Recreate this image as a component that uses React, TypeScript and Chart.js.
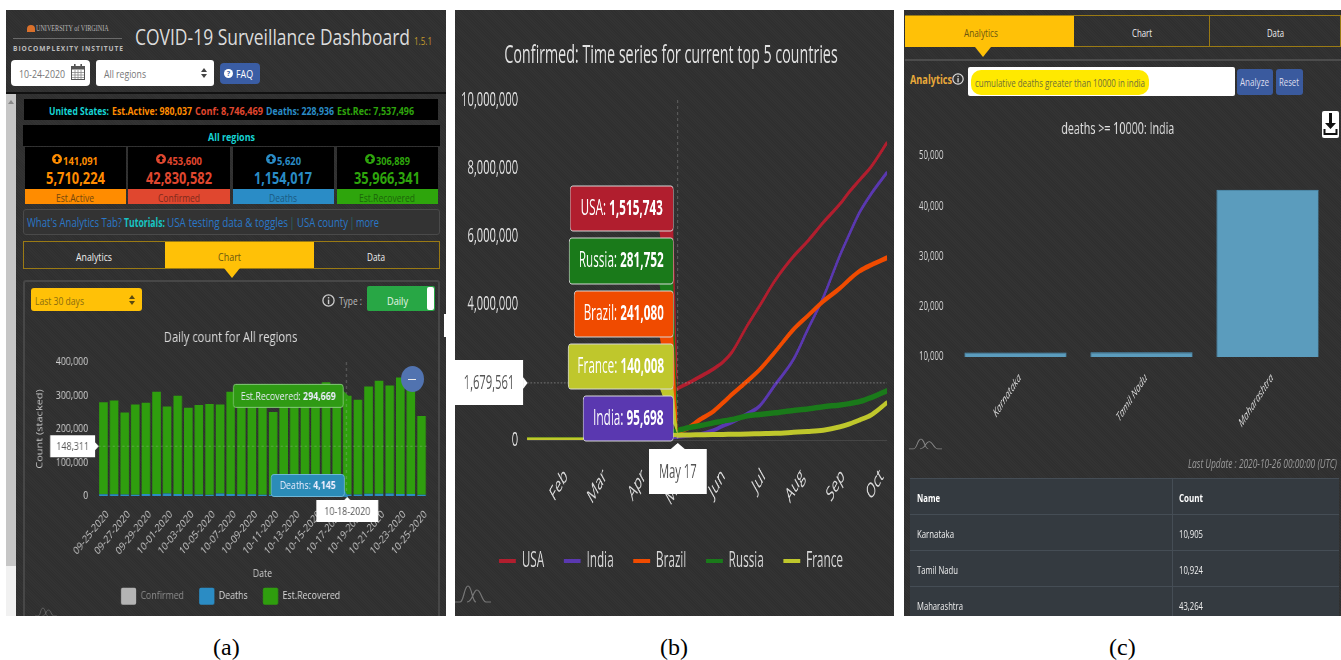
import React, { useEffect, useRef } from "react";
import { Chart, registerables } from "chart.js";

Chart.register(...registerables);

const FONT = '"Open Sans"';
const DARK = "#313131";
const HATCH = "repeating-linear-gradient(45deg,#2f2f2f 0 1px,#333333 1px 2px)";

// Panel (a): daily stacked bars
const dates = [
  "09-25-2020","09-26-2020","09-27-2020","09-28-2020","09-29-2020","09-30-2020","10-01-2020","10-02-2020",
  "10-03-2020","10-04-2020","10-05-2020","10-06-2020","10-07-2020","10-08-2020","10-09-2020","10-10-2020",
  "10-11-2020","10-12-2020","10-13-2020","10-14-2020","10-15-2020","10-16-2020","10-17-2020","10-18-2020",
  "10-19-2020","10-20-2020","10-21-2020","10-22-2020","10-23-2020","10-24-2020","10-25-2020",
];
const dailyDeaths = [4800,5200,3900,3700,5600,6000,7200,5500,4600,4400,3800,6900,5900,5300,4800,3700,3800,4900,5700,6100,5800,4300,3900,4145,4200,6500,6700,6800,5900,5500,3600];
const dailyRecovered = [275000,280000,245000,269000,273000,305000,260000,294000,259000,267000,271000,266000,305000,285000,270000,280000,247000,285000,294000,299000,300000,335000,306000,294669,283000,320000,337000,323000,348000,335000,235000];
const hoverDateIndex = 23;
const hoverCount = 148311;

// Panel (b): top five countries, read at these days after Jan 22
const days = [0,30,45,60,75,90,100,116,125,133,143,151,158,170,179,191,205,216,228,241,248,256,265,277];
const usa = [1,15,400,33000,366000,820000,1100000,1515743,1690000,1860000,2080000,2300000,2600000,3400000,3950000,4700000,5400000,5850000,6400000,6950000,7300000,7650000,8050000,8746469];
const india = [0,3,30,400,4700,20000,37000,95698,130000,170000,280000,420000,530000,780000,1000000,1630000,2370000,3250000,4200000,5450000,6050000,6700000,7250000,7870000];
const brazil = [0,0,20,1500,12000,43000,90000,241080,380000,600000,830000,1100000,1350000,1750000,2070000,2600000,3250000,3650000,4080000,4470000,4720000,4970000,5150000,5360000];
const russia = [0,0,10,350,6300,52000,115000,281752,370000,420000,500000,560000,600000,710000,750000,800000,870000,910000,980000,1030000,1070000,1130000,1250000,1450000];
const france = [0,12,950,16000,90000,120000,130000,140008,148000,153000,160000,162000,170000,175000,185000,195000,225000,250000,290000,390000,470000,590000,740000,1100000];
const hoverDay = 116;
const hoverDayLabel = "May 17";
const hoverCases = 1679561;
const monthTickDays = [30,60,90,121,151,182,212,243,273];
const monthLabels = ["Feb","Mar","Apr","May","Jun","Jul","Aug","Sep","Oct"];

// Panel (c): analytics bars
const states = ["Karnataka","Tamil Nadu","Maharashtra"];
const stateDeaths = [10905,10924,43264];

const cards = [
  { delta: "141,091", total: "5,710,224", label: "Est.Active", color: "#ff8c00", ink: "#74460c", x: 25, w: 101, dx: 63, dw: 35, tx: 46, tw: 59, lx: 56, lw: 38 },
  { delta: "453,600", total: "42,830,582", label: "Confirmed", color: "#e0472f", ink: "#7d2a1c", x: 128, w: 102, dx: 167, dw: 35, tx: 146, tw: 66, lx: 158, lw: 42 },
  { delta: "5,620", total: "1,154,017", label: "Deaths", color: "#2a8cc6", ink: "#1a5a82", x: 233, w: 101, dx: 277, dw: 24, tx: 254, tw: 58, lx: 269, lw: 28 },
  { delta: "306,889", total: "35,966,341", label: "Est.Recovered", color: "#2ea50c", ink: "#1c660a", x: 337, w: 101, dx: 376, dw: 34, tx: 354, tw: 66, lx: 359, lw: 56 },
];

const measureCtx = typeof document !== "undefined" ? document.createElement("canvas").getContext("2d") : null;

type TP = { x: number; y: number; w?: number; size: number; color: string; weight?: number; italic?: boolean; family?: string; spacing?: number; children: string };
function T({ x, y, w, size, color, weight = 400, italic, family = FONT, spacing = 0, children }: TP) {
  let sx = 1;
  if (w && measureCtx) {
    measureCtx.font = `${italic ? "italic " : ""}${weight} ${size}px ${family}`;
    sx = w / (measureCtx.measureText(children).width + spacing * children.length);
  }
  return (
    <span
      style={{
        position: "absolute", left: x, top: y, whiteSpace: "nowrap", lineHeight: 1, fontSize: size, color,
        fontWeight: weight, fontStyle: italic ? "italic" : "normal", fontFamily: family, letterSpacing: spacing,
        transform: `translateY(-50%) scaleX(${sx})`, transformOrigin: "left center",
      }}
    >
      {children}
    </span>
  );
}

function Box({ x, y, w, h, style }: { x: number; y: number; w: number; h: number; style?: React.CSSProperties }) {
  return <div style={{ position: "absolute", left: x, top: y, width: w, height: h, boxSizing: "border-box", ...style }} />;
}

function UpCircle({ x, y, r, color }: { x: number; y: number; r: number; color: string }) {
  return (
    <svg style={{ position: "absolute", left: x - r, top: y - r }} width={r * 2} height={r * 2} viewBox="0 0 20 20">
      <circle cx="10" cy="10" r="10" fill={color} />
      <path d="M10 3 L16 10 H12.5 V16 H7.5 V10 H4 Z" fill="#000" />
    </svg>
  );
}

function Info({ x, y, r, color }: { x: number; y: number; r: number; color: string }) {
  return (
    <svg style={{ position: "absolute", left: x - r, top: y - r }} width={r * 2} height={r * 2} viewBox="0 0 20 20">
      <circle cx="10" cy="10" r="8.6" fill="none" stroke={color} strokeWidth="2" />
      <rect x="9" y="8.5" width="2.2" height="7" fill={color} />
      <rect x="9" y="4.7" width="2.2" height="2.2" fill={color} />
    </svg>
  );
}

function Updown({ x, y, color }: { x: number; y: number; color: string }) {
  return (
    <svg style={{ position: "absolute", left: x - 3, top: y - 5 }} width={6} height={10} viewBox="0 0 6 10">
      <path d="M0 4 L3 0 L6 4 Z M0 6 L3 10 L6 6 Z" fill={color} />
    </svg>
  );
}

function Mark({ x, y, w, h, color = "#8a8a8a" }: { x: number; y: number; w: number; h: number; color?: string }) {
  return (
    <svg style={{ position: "absolute", left: x, top: y }} width={w} height={h} viewBox="0 0 36 20" preserveAspectRatio="none">
      <path d="M0 18 H5 C9 18 9 2 13 2 C17 2 17 18 21 18 M12 18 C18 18 18 6 22 6 C26 6 27 18 31 18 H36" fill="none" stroke={color} strokeWidth="1.2" />
    </svg>
  );
}

type Part = { text: string; bold?: boolean };
function bubble(ctx: CanvasRenderingContext2D, b: { x: number; y: number; w: number; h: number }, fill: string, stroke: string, ink: string, parts: Part[], size: number, r = 3) {
  ctx.save();
  ctx.fillStyle = fill;
  ctx.strokeStyle = stroke;
  ctx.lineWidth = 1;
  ctx.beginPath();
  ctx.roundRect(b.x, b.y, b.w, b.h, r);
  ctx.fill();
  if (stroke !== "none") ctx.stroke();
  let total = 0;
  const widths = parts.map((p) => {
    ctx.font = `${p.bold ? 700 : 400} ${size}px ${FONT}`;
    const m = ctx.measureText(p.text).width;
    total += m;
    return m;
  });
  let cx = b.x + (b.w - total) / 2;
  ctx.fillStyle = ink;
  ctx.textBaseline = "middle";
  ctx.textAlign = "left";
  parts.forEach((p, i) => {
    ctx.font = `${p.bold ? 700 : 400} ${size}px ${FONT}`;
    ctx.fillText(p.text, cx, b.y + b.h / 2 + 0.5);
    cx += widths[i];
  });
  ctx.restore();
}

function tail(ctx: CanvasRenderingContext2D, pts: number[][], fill: string) {
  ctx.save();
  ctx.fillStyle = fill;
  ctx.beginPath();
  pts.forEach((p, i) => (i ? ctx.lineTo(p[0], p[1]) : ctx.moveTo(p[0], p[1])));
  ctx.closePath();
  ctx.fill();
  ctx.restore();
}

function dashed(ctx: CanvasRenderingContext2D, x0: number, y0: number, x1: number, y1: number, color: string) {
  ctx.save();
  ctx.strokeStyle = color;
  ctx.lineWidth = 1;
  ctx.setLineDash([3, 3]);
  ctx.beginPath();
  ctx.moveTo(x0, y0);
  ctx.lineTo(x1, y1);
  ctx.stroke();
  ctx.restore();
}

const fmt = (v: number) => v.toLocaleString("en-US");

export default function App() {
  const aRef = useRef<HTMLCanvasElement>(null);
  const bRef = useRef<HTMLCanvasElement>(null);
  const cRef = useRef<HTMLCanvasElement>(null);

  useEffect(() => {
    const sxA = 0.8;
    const sxB = 0.56;

    const overlayA = {
      id: "overlayA",
      afterDatasetsDraw(chart: any) {
        const { ctx, chartArea: ca } = chart;
        const xs = chart.scales.x;
        const ys = chart.scales.y;
        const xp = xs.getPixelForValue(hoverDateIndex);
        const yR = ys.getPixelForValue(dailyRecovered[hoverDateIndex] + dailyDeaths[hoverDateIndex]);
        const yD = ys.getPixelForValue(dailyDeaths[hoverDateIndex]);
        const yH = ys.getPixelForValue(hoverCount);
        dashed(ctx, xp - 1, ca.top, xp - 1, ca.bottom, "rgba(200,200,200,.45)");
        dashed(ctx, ca.left, yH, ca.right, yH, "rgba(200,200,200,.3)");
        const k = 1 / sxA;
        const greenR = xp - 4 * k;
        tail(ctx, [[greenR, yR - 5], [greenR + 6 * k, yR + 1], [greenR, yR + 6]], "#2f9a14");
        bubble(ctx, { x: greenR - 110 * k, y: yR - 11.5, w: 110 * k, h: 23 }, "#2f9a14", "#86c97a", "#eef", [{ text: "Est.Recovered: " }, { text: fmt(dailyRecovered[hoverDateIndex]), bold: true }], 11);
        const blueR = xp - 3 * k;
        tail(ctx, [[blueR - 8 * k, yD + 1], [blueR + 4 * k, yD + 3], [blueR, yD - 5]], "#2b8cb8");
        bubble(ctx, { x: blueR - 73 * k, y: yD - 20, w: 73 * k, h: 22 }, "#2b8cb8", "#6fb6d6", "#eef", [{ text: "Deaths: " }, { text: fmt(dailyDeaths[hoverDateIndex]), bold: true }], 11);
        tail(ctx, [[ca.left - 4 * k, yH - 5], [ca.left + 0.5 * k, yH], [ca.left - 4 * k, yH + 5]], "#fff");
        bubble(ctx, { x: ca.left - 48 * k, y: yH - 11, w: 45 * k, h: 22 }, "#fff", "none", "#555", [{ text: fmt(hoverCount) }], 11, 0);
        tail(ctx, [[xp - 5, ca.bottom + 5], [xp, ca.bottom + 1], [xp + 5, ca.bottom + 5]], "#fff");
        bubble(ctx, { x: xp - 31 * k, y: ca.bottom + 4, w: 62 * k, h: 22 }, "#fff", "none", "#555", [{ text: dates[hoverDateIndex] }], 11, 0);
      },
    };

    const chartA = new Chart(aRef.current!, {
      type: "bar",
      data: {
        labels: dates,
        datasets: [
          { label: "Confirmed", data: [], backgroundColor: "#b4b4b4", categoryPercentage: 0.9 },
          { label: "Deaths", data: dailyDeaths, backgroundColor: "#2b8cc4", categoryPercentage: 0.9 },
          { label: "Est.Recovered", data: dailyRecovered, backgroundColor: "#2f9e0e", categoryPercentage: 0.9 },
        ],
      },
      plugins: [overlayA],
      options: {
        animation: false,
        responsive: false,
        devicePixelRatio: 1,
        layout: { padding: { left: 13, right: 16.5, top: 0, bottom: 0.3 } },
        plugins: {
          tooltip: { enabled: false },
          title: { display: true, text: "Daily count for All regions", color: "#dcdcdc", font: { family: FONT, size: 14, weight: 400 }, padding: { top: 9.5, bottom: 15.7 } },
          legend: {
            position: "bottom",
            labels: {
              boxWidth: 19, boxHeight: 17, padding: 19, font: { family: FONT, size: 11 },
              useBorderRadius: true, borderRadius: 2,
              generateLabels: (c: any) =>
                c.data.datasets.map((d: any, i: number) => ({
                  text: d.label, fillStyle: d.backgroundColor, strokeStyle: d.backgroundColor, lineWidth: 0,
                  datasetIndex: i, hidden: false, fontColor: i === 0 ? "#8e8e8e" : "#d8d8d8", borderRadius: 2,
                })),
            },
          },
        },
        scales: {
          x: {
            stacked: true,
            grid: { display: false },
            border: { display: false },
            afterFit: (s: any) => { s.height = 72.8; },
            title: { display: true, text: "Date", color: "#cfcfcf", font: { family: FONT, size: 11 }, padding: { top: 0, bottom: -12 } },
            ticks: {
              autoSkip: false, minRotation: 45, maxRotation: 45, color: "#c8c8c8", font: { family: FONT, size: 11 }, padding: 4, labelOffset: 5,
              callback: (_: any, i: number) => (i % 2 === 0 ? dates[i] : null),
            },
          },
          y: {
            stacked: true, min: 0, max: 400000,
            grid: { display: false },
            border: { display: false },
            afterFit: (s: any) => { s.width = 79.75; },
            title: { display: true, text: "Count (stacked)", color: "#c8c8c8", font: { family: FONT, size: 11 }, padding: 0 },
            ticks: { stepSize: 100000, color: "#d0d0d0", font: { family: FONT, size: 11 }, padding: 4.5, callback: (v: any) => fmt(Number(v)) },
          },
        },
      },
    } as any);

    const seriesB = [
      { label: "USA", data: usa, color: "#b11e2e", width: 4 },
      { label: "India", data: india, color: "#5a38b0", width: 4 },
      { label: "Brazil", data: brazil, color: "#f04b00", width: 5 },
      { label: "Russia", data: russia, color: "#1a7a1a", width: 5.5 },
      { label: "France", data: france, color: "#bfc72c", width: 5 },
    ];

    const overlayB = {
      id: "overlayB",
      afterDatasetsDraw(chart: any) {
        const { ctx, chartArea: ca } = chart;
        const xs = chart.scales.x;
        const ys = chart.scales.y;
        const xp = xs.getPixelForValue(hoverDay);
        const idx = days.indexOf(hoverDay);
        const yH = ys.getPixelForValue(hoverCases);
        dashed(ctx, xp, ca.top, xp, ca.bottom, "rgba(200,200,200,.45)");
        dashed(ctx, ca.left, yH, ca.right, yH, "rgba(200,200,200,.45)");
        const k = 1 / sxB;
        const right = xp - 4.5 * k;
        const layout = [
          { s: 0, top: 176, h: 45, w: 103 },
          { s: 3, top: 228, h: 46, w: 104 },
          { s: 2, top: 281, h: 46, w: 99 },
          { s: 4, top: 334, h: 45, w: 105 },
          { s: 1, top: 386, h: 45, w: 90 },
        ];
        layout.forEach((l) => {
          const s = seriesB[l.s];
          const tip = ys.getPixelForValue(s.data[idx]);
          tail(ctx, [[right - 14 * k, l.top + l.h - 2], [right, l.top + l.h - 2], [xp, tip]], s.color);
          bubble(ctx, { x: right - l.w * k, y: l.top, w: l.w * k, h: l.h }, s.color, "#d8d8d8", "#fff", [{ text: s.label + ": " }, { text: fmt(s.data[idx]), bold: true }], 21, 4);
        });
        tail(ctx, [[ca.left - 4 * k, yH - 6], [ca.left + 0.5 * k, yH], [ca.left - 4 * k, yH + 6]], "#fff");
        bubble(ctx, { x: 0, y: yH - 23, w: ca.left - 4 * k, h: 45 }, "#fff", "none", "#555", [{ text: fmt(hoverCases) }], 20, 0);
        tail(ctx, [[xp - 7 * k, ca.bottom + 9], [xp, ca.bottom + 3], [xp + 7 * k, ca.bottom + 9]], "#fff");
        bubble(ctx, { x: xp - 29 * k, y: ca.bottom + 9, w: 58 * k, h: 45 }, "#fff", "none", "#555", [{ text: hoverDayLabel }], 20, 0);
      },
    };

    const chartB = new Chart(bRef.current!, {
      type: "line",
      data: {
        datasets: seriesB.map((s, i) => ({
          label: s.label,
          data: s.data.map((v, j) => ({ x: days[j], y: v })),
          borderColor: s.color,
          backgroundColor: s.color,
          borderWidth: s.width,
          pointRadius: 0,
          cubicInterpolationMode: "monotone",
          order: 4 - i,
        })),
      },
      plugins: [overlayB],
      options: {
        animation: false,
        responsive: false,
        devicePixelRatio: 1,
        parsing: false,
        layout: { padding: { left: 0, right: 12.6, top: 0, bottom: 34.5 } },
        plugins: {
          tooltip: { enabled: false },
          title: { display: true, text: "Confirmed: Time series for current top 5 countries", color: "#e2e2e2", font: { family: FONT, size: 25.5, weight: 400 }, padding: { top: 30, bottom: 29.4 } },
          legend: {
            position: "bottom",
            labels: {
              boxWidth: 30, boxHeight: 4, padding: 35, font: { family: FONT, size: 21 },
              sort: (a: any, b: any) => a.datasetIndex - b.datasetIndex,
              generateLabels: (c: any) =>
                c.data.datasets.map((d: any, i: number) => ({
                  text: d.label, fillStyle: d.borderColor, strokeStyle: d.borderColor, lineWidth: 0, datasetIndex: i, hidden: false, fontColor: "#d8d8d8",
                })),
            },
          },
        },
        scales: {
          x: {
            type: "linear", min: 0, max: 277,
            grid: { display: false },
            border: { display: false },
            afterFit: (s: any) => { s.height = 75.5; s.paddingLeft = 0; s.paddingRight = 0; },
            afterBuildTicks: (s: any) => { s.ticks = monthTickDays.map((value) => ({ value })); },
            ticks: {
              autoSkip: false, minRotation: 45, maxRotation: 45, color: "#d8d8d8", font: { family: FONT, size: 21 }, padding: 16,
              callback: (v: any) => monthLabels[monthTickDays.indexOf(Number(v))],
            },
          },
          y: {
            min: 0, max: 10000000,
            grid: { color: (c: any) => (c.tick.value === 0 ? "#454545" : "transparent"), drawTicks: false },
            border: { display: false },
            afterFit: (s: any) => { s.width = 128.6; },
            ticks: { stepSize: 2000000, color: "#e4e4e4", font: { family: FONT, size: 20 }, padding: 16, callback: (v: any) => fmt(Number(v)) },
          },
        },
      },
    } as any);

    const chartC = new Chart(cRef.current!, {
      type: "bar",
      data: {
        labels: states,
        datasets: [{ label: "deaths", data: stateDeaths, backgroundColor: "#5b9cbd", borderColor: "#4f9ac4", borderWidth: 1, categoryPercentage: 0.9 }],
      },
      options: {
        animation: false,
        responsive: false,
        devicePixelRatio: 1,
        layout: { padding: { left: 0, right: 16.2, top: 0, bottom: 0 } },
        plugins: {
          legend: { display: false },
          tooltip: { enabled: false },
          title: { display: true, text: "deaths >= 10000: India", color: "#e0e0e0", font: { family: FONT, size: 16.5, weight: 400 }, padding: { top: 19, bottom: 17.2 } },
        },
        scales: {
          x: {
            grid: { display: false },
            border: { display: false },
            afterFit: (s: any) => { s.height = 113; },
            ticks: { minRotation: 45, maxRotation: 45, color: "#dcdcdc", font: { family: FONT, size: 12, style: "italic" }, padding: 6, labelOffset: 7 },
          },
          y: {
            min: 10000, max: 50000,
            grid: { display: false },
            border: { display: false },
            afterFit: (s: any) => { s.width = 73; },
            ticks: { stepSize: 10000, color: "#d8d8d8", font: { family: FONT, size: 12 }, padding: 6, callback: (v: any) => fmt(Number(v)) },
          },
        },
      },
    } as any);

    return () => {
      chartA.destroy();
      chartB.destroy();
      chartC.destroy();
    };
  }, []);

  const panel = (x: number, w: number): React.CSSProperties => ({ position: "absolute", left: x, top: 10, width: w, height: 606, background: DARK, backgroundImage: HATCH });
  const scaled = (x: number, y: number, sx: number): React.CSSProperties => ({ position: "absolute", left: x, top: y, transform: `scaleX(${sx})`, transformOrigin: "0 0" });

  return (
    <div style={{ position: "absolute", left: 0, top: 0, width: 1341, height: 660, background: "#fff", overflow: "hidden", fontFamily: FONT }}>
      {/* Panel (a) */}
      <div style={panel(6, 440)} />
      <Box x={6} y={92} w={440} h={2} style={{ background: "#111" }} />
      <Box x={6} y={94} w={10} h={472} style={{ background: "#c6c6c6" }} />
      <Box x={6} y={566} w={10} h={50} style={{ background: "#f1f1f1" }} />
      <svg style={{ position: "absolute", left: 8, top: 99 }} width="6" height="6"><path d="M0 5 L3 1 L6 5 Z" fill="#888" /></svg>

      <Box x={27} y={25} w={8} h={7} style={{ background: "#d9702b", borderRadius: "4px 4px 0 0" }} />
      <T x={36} y={29} w={73} size={8} color="#b8b8b8" family='"Liberation Serif"'>UNIVERSITY of VIRGINIA</T>
      <Box x={13} y={38} w={109} h={1} style={{ background: "#6a6a6a" }} />
      <T x={13} y={47.5} w={111} size={7} weight={700} color="#bdbdbd" spacing={1}>BIOCOMPLEXITY INSTITUTE</T>
      <T x={135} y={37} w={275} size={21} color="#dcdcdc">COVID-19 Surveillance Dashboard</T>
      <T x={414} y={41} w={18} size={10} color="#c59a2c">1.5.1</T>

      <Box x={11} y={60} w={79} h={26} style={{ background: "#fff", borderRadius: 4 }} />
      <T x={19} y={73} w={46} size={11} color="#777">10-24-2020</T>
      <svg style={{ position: "absolute", left: 71, top: 64 }} width="14" height="16" viewBox="0 0 14 16">
        <rect x="0.5" y="2.5" width="13" height="13" fill="none" stroke="#555" />
        <rect x="0.5" y="2.5" width="13" height="3" fill="#555" />
        <path d="M1 8.5H13M1 11H13M1 13.5H13M4 6V15M7 6V15M10 6V15" stroke="#888" strokeWidth="0.8" />
        <rect x="3" y="0" width="1.6" height="4" fill="#555" /><rect x="9.4" y="0" width="1.6" height="4" fill="#555" />
      </svg>
      <Box x={96} y={60} w={118} h={26} style={{ background: "#fff", borderRadius: 3 }} />
      <T x={104} y={73} w={42} size={11} color="#777">All regions</T>
      <Updown x={204} y={73} color="#444" />
      <Box x={220} y={63} w={40} h={21} style={{ background: "#3a5da4", borderRadius: 4 }} />
      <svg style={{ position: "absolute", left: 224, top: 69 }} width="9" height="9" viewBox="0 0 10 10"><circle cx="5" cy="5" r="5" fill="#fff" /><text x="5" y="8" fontSize="8" fontWeight="700" textAnchor="middle" fill="#3a5da4">?</text></svg>
      <T x={236} y={73} w={17} size={11} color="#fff">FAQ</T>

      <Box x={24} y={99} w={414} h={21} style={{ background: "#000" }} />
      <T x={49} y={110} w={60} size={11} weight={700} color="#17d4d4">United States:</T>
      <T x={112} y={110} w={80} size={11} weight={700} color="#ff8c00">Est.Active: 980,037</T>
      <T x={195} y={110} w={68} size={11} weight={700} color="#e0472f">Conf: 8,746,469</T>
      <T x={266} y={110} w={68} size={11} weight={700} color="#2a8cc6">Deaths: 228,936</T>
      <T x={337} y={110} w={77} size={11} weight={700} color="#2ea50c">Est.Rec: 7,537,496</T>

      <Box x={23} y={125} w={417} h={21} style={{ background: "#000" }} />
      <T x={208} y={136} w={47} size={11} weight={700} color="#17d4d4">All regions</T>

      {cards.map((c) => (
        <React.Fragment key={c.label}>
          <Box x={c.x} y={147} w={c.w} h={42} style={{ background: "#000" }} />
          <Box x={c.x} y={189} w={c.w} h={15} style={{ background: c.color }} />
          <UpCircle x={c.dx - 6} y={159} r={5} color={c.color} />
          <T x={c.dx} y={159.5} w={c.dw} size={11} weight={700} color={c.color}>{c.delta}</T>
          <T x={c.tx} y={178} w={c.tw} size={16} weight={700} color={c.color}>{c.total}</T>
          <T x={c.lx} y={197} w={c.lw} size={11} color={c.ink}>{c.label}</T>
        </React.Fragment>
      ))}

      <Box x={23} y={209} w={417} h={26} style={{ background: "#333", border: "1px solid #4a4a4a", borderRadius: 3 }} />
      <T x={27} y={223} w={95} size={12} color="#2a78c8">What's Analytics Tab?</T>
      <T x={124} y={223} w={41} size={12} weight={700} color="#17c4c4">Tutorials:</T>
      <T x={167} y={223} w={121} size={12} color="#2a78c8">USA testing data &amp; toggles</T>
      <T x={291} y={223} w={2} size={12} color="#17c4c4">|</T>
      <T x={297} y={223} w={51} size={12} color="#2a78c8">USA county</T>
      <T x={351} y={223} w={2} size={12} color="#17c4c4">|</T>
      <T x={356} y={223} w={23} size={12} color="#2a78c8">more</T>

      <Box x={23} y={241} w={417} h={28} style={{ border: "1px solid #9a7a14" }} />
      <Box x={165} y={242} w={149} h={26} style={{ background: "#ffc107" }} />
      <svg style={{ position: "absolute", left: 224, top: 268 }} width="16" height="10"><path d="M0 0 H16 L8 10 Z" fill="#ffc107" /></svg>
      <T x={76} y={256} w={36} size={11} color="#eee">Analytics</T>
      <T x={218} y={256} w={23} size={11} color="#6b5510">Chart</T>
      <T x={367} y={256} w={18} size={11} color="#eee">Data</T>

      <Box x={23} y={280} w={417} h={340} style={{ border: "2px solid #474747", borderRadius: 3 }} />
      <Box x={31} y={288} w={111} h={23} style={{ background: "#ffc107", borderRadius: 3 }} />
      <T x={35} y={300} w={49} size={11} color="#8a6d10">Last 30 days</T>
      <Updown x={132} y={300} color="#5a4a10" />
      <Info x={328} y={300} r={6.5} color="#ccc" />
      <T x={339} y={300} w={23} size={11} color="#bbb">Type :</T>
      <Box x={367} y={286} w={68} h={25} style={{ background: "#28a745", borderRadius: 2 }} />
      <Box x={427} y={287} w={7} h={23} style={{ background: "#fff", borderRadius: 2 }} />
      <T x={387} y={300} w={21} size={11} color="#e8f5e8">Daily</T>
      <Box x={444} y={314} w={2} h={23} style={{ background: "#fff" }} />

      <div style={scaled(24, 320, 0.8)}>
        <canvas ref={aRef} width={520} height={295} style={{ display: "block" }} />
      </div>
      <Box x={401} y={366} w={23} h={26} style={{ background: "#5173b0", borderRadius: "50%" }} />
      <Box x={408} y={378.5} w={8} h={1} style={{ background: "#e8e8e8" }} />
      <Mark x={35} y={607} w={22} h={10} color="#777" />
      <Box x={0} y={616} w={450} h={14} style={{ background: "#fff" }} />

      {/* Panel (b) */}
      <div style={panel(455, 439)} />
      <div style={scaled(455, 10, 0.56)}>
        <canvas ref={bRef} width={784} height={606} style={{ display: "block" }} />
      </div>
      <Mark x={455} y={584} w={36} h={20} color="#777" />

      {/* Panel (c) */}
      <div style={panel(904, 437)} />
      <Box x={905} y={15} w={436} h={32} style={{ border: "1px solid #9a7a14" }} />
      <Box x={905} y={16} w={169} h={31} style={{ background: "#ffc107" }} />
      <Box x={1209} y={16} w={1} h={30} style={{ background: "#9a7a14" }} />
      <svg style={{ position: "absolute", left: 975, top: 47 }} width="16" height="10"><path d="M0 0 H16 L8 10 Z" fill="#ffc107" /></svg>
      <T x={964} y={31.5} w={34} size={11} color="#6b5510">Analytics</T>
      <T x={1132} y={31.5} w={20} size={11} color="#eee">Chart</T>
      <T x={1267} y={31.5} w={17} size={11} color="#eee">Data</T>
      <Box x={905} y={59} w={436} h={2} style={{ background: "#4c4c4c" }} />
      <T x={910} y={79} w={42} size={13} weight={700} color="#e8a93a">Analytics</T>
      <Info x={958} y={79} r={6} color="#ddd" />
      <Box x={968} y={67} w={267} h={29} style={{ background: "#fff", borderRadius: 2 }} />
      <Box x={971} y={70} w={178} h={25} style={{ background: "#ffe900", borderRadius: 10 }} />
      <T x={975} y={82} w={170} size={11} color="#6f6f3a">cumulative deaths greater than 10000 in india</T>
      <Box x={1237} y={69} w={36} h={26} style={{ background: "#3a5a9e", borderRadius: 3 }} />
      <Box x={1276} y={69} w={27} h={26} style={{ background: "#3a5a9e", borderRadius: 3 }} />
      <T x={1240} y={81} w={29} size={11} color="#dde">Analyze</T>
      <T x={1279} y={81} w={20} size={11} color="#dde">Reset</T>
      <Box x={1322} y={111} w={17} h={27} style={{ background: "#fff", borderRadius: 2 }} />
      <svg style={{ position: "absolute", left: 1323, top: 113 }} width="15" height="24" viewBox="0 0 15 24">
        <path d="M6 0 H9 V10 H13 L7.5 16 L2 10 H6 Z" fill="#111" />
        <path d="M1.5 16 V21 H13.5 V16" fill="none" stroke="#111" strokeWidth="2" />
      </svg>

      <div style={scaled(905, 100, 0.65)}>
        <canvas ref={cRef} width={671} height={370} style={{ display: "block" }} />
      </div>
      <Mark x={909} y={438} w={33} h={12} color="#888" />
      <T x={1188} y={464} w={149} size={12} italic color="#9a9a9a">Last Update : 2020-10-26 00:00:00 (UTC)</T>

      <Box x={910} y={478} w={429} h={138} style={{ background: "#343a40" }} />
      <Box x={1172} y={478} w={1} h={138} style={{ background: "#454d55" }} />
      {[478, 514, 550, 586].map((y) => (
        <Box key={y} x={910} y={y} w={429} h={1} style={{ background: "#454d55" }} />
      ))}
      <T x={917} y={497} w={23} size={11} weight={700} color="#fff">Name</T>
      <T x={1179} y={497} w={24} size={11} weight={700} color="#fff">Count</T>
      {states.map((s, i) => (
        <React.Fragment key={s}>
          <T x={917} y={533 + i * 36} w={[37, 41, 46][i]} size={11} color="#eee">{s}</T>
          <T x={1179} y={533 + i * 36} w={24} size={11} color="#eee">{fmt(stateDeaths[i])}</T>
        </React.Fragment>
      ))}

      {/* Captions */}
      <T x={213} y={647} size={24} color="#000" family='"Liberation Serif"'>(a)</T>
      <T x={660} y={647} size={24} color="#000" family='"Liberation Serif"'>(b)</T>
      <T x={1109} y={647} size={24} color="#000" family='"Liberation Serif"'>(c)</T>
    </div>
  );
}
